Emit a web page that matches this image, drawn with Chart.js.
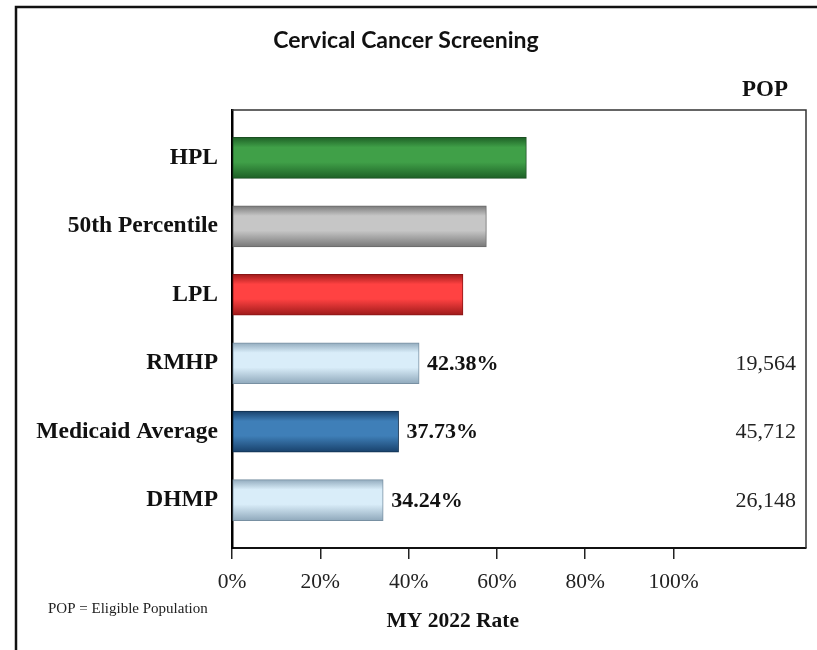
<!DOCTYPE html>
<html>
<head>
<meta charset="utf-8">
<script src="https://cdn.jsdelivr.net/npm/chart.js@4.4.0/dist/chart.umd.min.js"></script>
<style>
  body { margin: 0; background: #fff; }
  #wrap { width: 817px; height: 650px; position: relative; }
</style>
</head>
<body>
<div id="wrap"><canvas id="chart"></canvas></div>
<script>
// chart values
var categories = ['HPL', '50th Percentile', 'LPL', 'RMHP', 'Medicaid Average', 'DHMP'];
var rates = [66.67, 57.61, 52.31, 42.38, 37.73, 34.24];
var rateLabels = ['', '', '', '42.38%', '37.73%', '34.24%'];
var popValues = ['', '', '', '19,564', '45,712', '26,148'];
var xTicks = [0, 20, 40, 60, 80, 100];

var SERIF = '"Liberation Serif", "Times New Roman", serif';

// [edge, middle, border] for each bar
var barColors = [
  ['#1c5e25', '#40a048', '#1a4f22'],
  ['#767676', '#c6c6c6', '#6a6a6a'],
  ['#9a1818', '#ff4242', '#8a1515'],
  ['#8ea7ba', '#d9edf9', '#7890a2'],
  ['#173f69', '#3f7fb8', '#10304f'],
  ['#8ea7ba', '#d9edf9', '#7890a2']
];

function barFill(context) {
  var chart = context.chart;
  var c = barColors[context.dataIndex] || barColors[0];
  var yScale = chart.scales.y;
  if (!yScale || !chart.chartArea) return c[1];
  var mid = yScale.getPixelForValue(context.dataIndex);
  var g = chart.ctx.createLinearGradient(0, mid - 21, 0, mid + 21);
  g.addColorStop(0, c[0]);
  g.addColorStop(0.25, c[1]);
  g.addColorStop(0.6, c[1]);
  g.addColorStop(1, c[0]);
  return g;
}

var extrasPlugin = {
  id: 'extras',
  afterDraw: function(chart) {
    var ctx = chart.ctx;
    var area = chart.chartArea;
    var x = chart.scales.x;
    var y = chart.scales.y;
    ctx.save();

    // outer frame (left and top)
    ctx.strokeStyle = '#111';
    ctx.lineWidth = 2.5;
    ctx.beginPath();
    ctx.moveTo(16, 650);
    ctx.lineTo(16, 7);
    ctx.lineTo(817, 7);
    ctx.stroke();

    // plot frame top and right
    ctx.strokeStyle = '#333';
    ctx.lineWidth = 1.5;
    ctx.beginPath();
    ctx.moveTo(area.left, area.top);
    ctx.lineTo(area.right, area.top);
    ctx.lineTo(area.right, area.bottom);
    ctx.stroke();

    // title
    ctx.fillStyle = '#111';
    ctx.textAlign = 'center';
    ctx.textBaseline = 'middle';
    ctx.font = 'bold 23px Lato, "Open Sans", sans-serif';
    ctx.fillText('Cervical Cancer Screening', 406, 41);

    // POP header
    ctx.font = 'bold 23px ' + SERIF;
    ctx.fillText('POP', 765, 90);

    // value labels and POP column
    var meta = chart.getDatasetMeta(0);
    meta.data.forEach(function(bar, i) {
      var cy = y.getPixelForValue(i);
      if (rateLabels[i]) {
        ctx.textAlign = 'left';
        ctx.font = 'bold 22px ' + SERIF;
        ctx.fillStyle = '#111';
        ctx.fillText(rateLabels[i], bar.x + 8, cy + 1);
      }
      if (popValues[i]) {
        ctx.textAlign = 'right';
        ctx.font = '22px ' + SERIF;
        ctx.fillStyle = '#222';
        ctx.fillText(popValues[i], 796, cy + 1);
      }
    });

    // axis title, centred under the 0-100% range
    ctx.textAlign = 'center';
    ctx.font = 'bold 21.5px ' + SERIF;
    ctx.fillStyle = '#111';
    ctx.fillText('MY 2022 Rate', x.getPixelForValue(50), 621);

    // footnote
    ctx.textAlign = 'left';
    ctx.font = '15px ' + SERIF;
    ctx.fillStyle = '#222';
    ctx.fillText('POP = Eligible Population', 48, 609);

    ctx.restore();
  }
};

new Chart(document.getElementById('chart').getContext('2d'), {
  type: 'bar',
  data: {
    datasets: [{
      data: rates.map(function(v, i) { return { x: v, y: i }; }),
      backgroundColor: barFill,
      borderColor: barColors.map(function(c) { return c[2]; }),
      borderWidth: 1,
      borderSkipped: false,
      barThickness: 41
    }]
  },
  options: {
    indexAxis: 'y',
    responsive: true,
    maintainAspectRatio: false,
    animation: false,
    layout: { padding: { top: 110, right: 11, left: 0, bottom: 0 } },
    plugins: {
      legend: { display: false },
      tooltip: { enabled: false }
    },
    scales: {
      x: {
        type: 'linear',
        min: 0,
        max: 130,
        afterBuildTicks: function(scale) {
          scale.ticks = xTicks.map(function(v) { return { value: v }; });
        },
        afterFit: function(scale) { scale.height = 102; },
        grid: { drawOnChartArea: false, drawTicks: true, tickLength: 11, color: '#222', lineWidth: 1.5 },
        border: { color: '#111', width: 2 },
        ticks: {
          color: '#222',
          padding: 10,
          font: { family: SERIF, size: 21.5 },
          callback: function(v) { return v + '%'; }
        }
      },
      y: {
        type: 'linear',
        min: -0.7,
        max: 5.7,
        reverse: true,
        offset: false,
        afterBuildTicks: function(scale) {
          scale.ticks = categories.map(function(c, i) { return { value: i }; });
        },
        afterFit: function(scale) { scale.width = 232; },
        grid: { display: false, drawTicks: false, offset: false },
        border: { color: '#000', width: 2.5 },
        ticks: {
          color: '#111',
          padding: 14,
          font: { family: SERIF, size: 23.5, weight: 'bold' },
          callback: function(v) { return categories[v]; }
        }
      }
    }
  },
  plugins: [extrasPlugin]
});
</script>
</body>
</html>
